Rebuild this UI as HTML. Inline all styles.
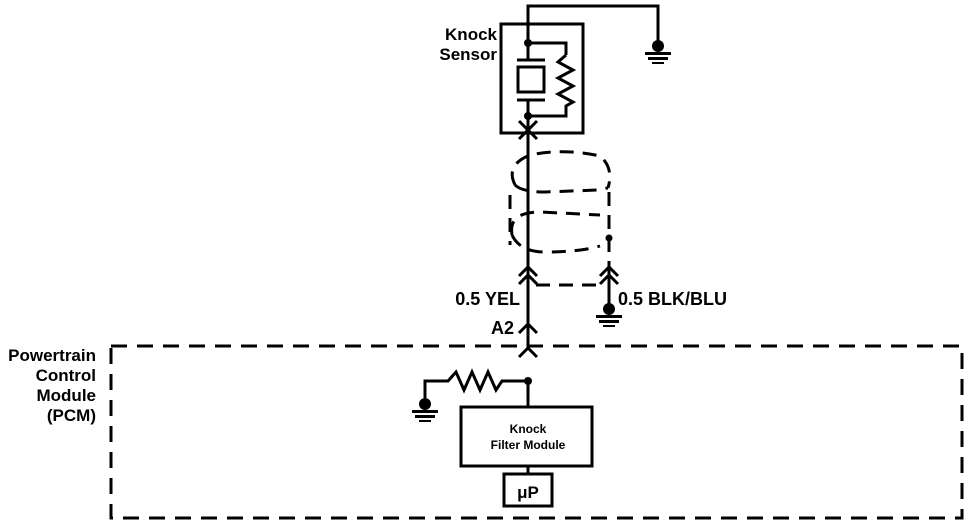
<!DOCTYPE html>
<html><head><style>
html,body{margin:0;padding:0;background:#fff;}
svg{display:block;}
text{font-family:"Liberation Sans",Arial,sans-serif;fill:#000;}
</style></head><body>
<svg width="976" height="528" viewBox="0 0 976 528" xmlns="http://www.w3.org/2000/svg">
<g stroke="#000" stroke-width="3" fill="none">
<polyline points="528,43 528,6 658,6 658,44"/>
<rect x="501" y="24" width="82" height="109"/>
<polyline points="528,43 566,43 566,55"/>
<polyline points="566,55 558,62 573,70 558,78 573,86 558,94 573,102 566,106 566,116 528,116"/>
<line x1="528" y1="43" x2="528" y2="60"/>
<line x1="517" y1="60" x2="545" y2="60"/>
<rect x="518" y="67" width="26" height="25"/>
<line x1="517" y1="100" x2="545" y2="100"/>
<line x1="528" y1="100" x2="528" y2="350"/>
<line x1="519" y1="121" x2="537" y2="139"/><line x1="537" y1="121" x2="519" y2="139"/>
<g stroke-dasharray="14,9">
<path d="M515,185 Q505,165 530,155 Q565,148 600,156 Q614,168 608,188"/>
<path d="M515,185 Q522,192 545,192 L598,190 Q607,188 608,188"/>
<line x1="510" y1="195" x2="510" y2="245"/>
<line x1="609" y1="192" x2="609" y2="285"/>
<path d="M512,235 Q508,212 540,212 L600,215"/>
<path d="M512,235 Q520,252 545,252 Q580,252 600,246"/>
<line x1="536" y1="285" x2="605" y2="285"/>
</g>
<polyline points="519,276 528,267 537,276"/>
<polyline points="519,284 528,275 537,284"/>
<polyline points="600,276 609,267 618,276"/>
<polyline points="600,284 609,275 618,284"/>
<line x1="609" y1="275" x2="609" y2="308"/>
<polyline points="519,333 528,324 537,333"/>
<polyline points="519,357 528,348 537,357"/>
<rect x="111" y="346" width="851" height="172" stroke-dasharray="16,10"/>
<polyline points="425,398 425,381 448,381 456,372 464,390 472,372 480,390 488,372 496,390 502,381 528,381"/>
<line x1="528" y1="381" x2="528" y2="407"/>
<rect x="461" y="407" width="131" height="59"/>
<line x1="528" y1="466" x2="528" y2="474"/>
<rect x="504" y="474" width="48" height="32"/>
</g>
<g fill="#000">
<circle cx="528" cy="43" r="4"/><circle cx="528" cy="116" r="4"/>
<circle cx="609" cy="238" r="3.5"/><circle cx="528" cy="381" r="4"/>
<circle cx="658" cy="46" r="6"/><rect x="645" y="52" width="26" height="3"/><rect x="648" y="57" width="20" height="3"/><rect x="652" y="62" width="12" height="2"/>
<circle cx="609" cy="309" r="6"/><rect x="596" y="315" width="26" height="3"/><rect x="599" y="320" width="20" height="3"/><rect x="603" y="325" width="12" height="2"/>
<circle cx="425" cy="404" r="6"/><rect x="412" y="410" width="26" height="3"/><rect x="415" y="415" width="20" height="3"/><rect x="419" y="420" width="12" height="2"/>
</g>
<g font-weight="bold">
<text x="497" y="40" font-size="17" text-anchor="end">Knock</text>
<text x="497" y="60" font-size="17" text-anchor="end">Sensor</text>
<text x="520" y="305" font-size="18" text-anchor="end">0.5 YEL</text>
<text x="618" y="305" font-size="18">0.5 BLK/BLU</text>
<text x="514" y="334" font-size="18" text-anchor="end">A2</text>
<text x="96" y="361" font-size="17" text-anchor="end">Powertrain</text>
<text x="96" y="381" font-size="17" text-anchor="end">Control</text>
<text x="96" y="401" font-size="17" text-anchor="end">Module</text>
<text x="96" y="421" font-size="17" text-anchor="end">(PCM)</text>
<text x="528" y="433" font-size="12" text-anchor="middle">Knock</text>
<text x="528" y="449" font-size="12" text-anchor="middle">Filter Module</text>
<text x="528" y="498" font-size="17" text-anchor="middle">μP</text>
</g>
</svg>
</body></html>
